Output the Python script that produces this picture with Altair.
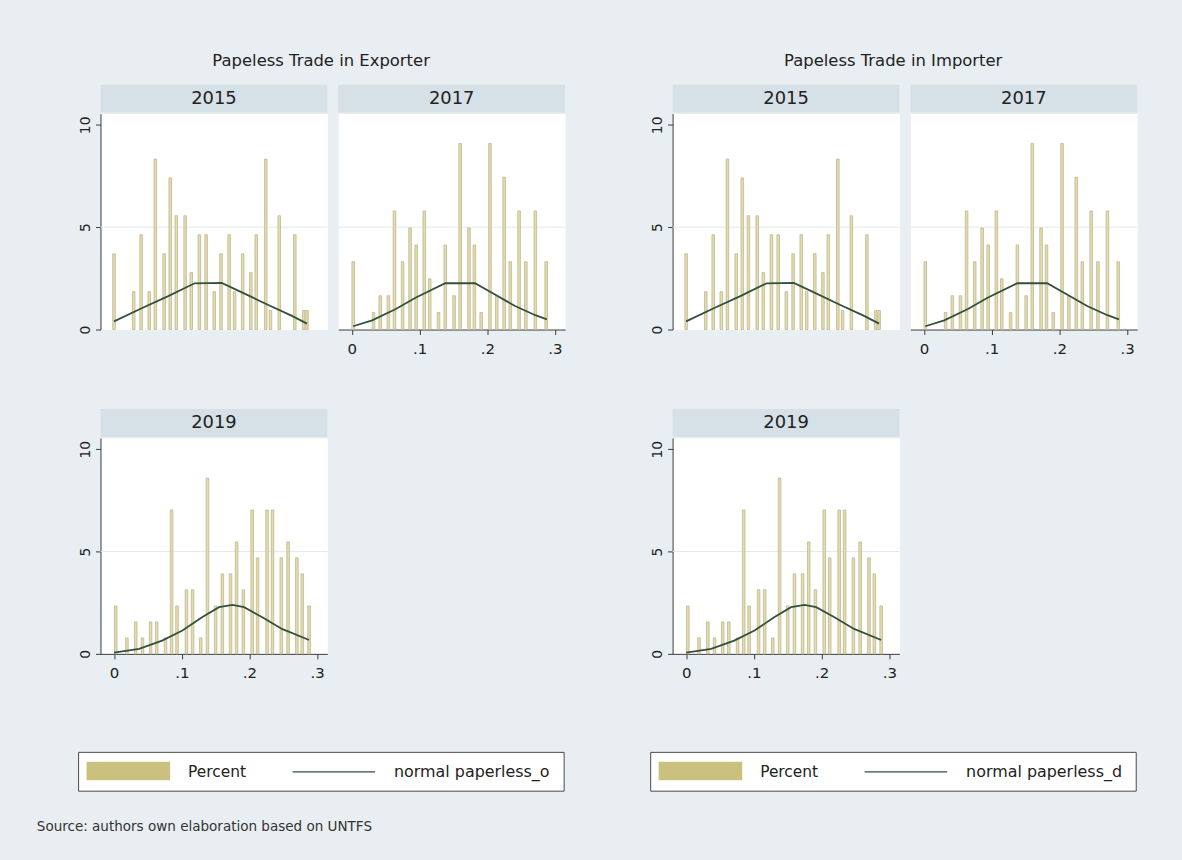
import altair as alt
import pandas as pd

FONT = "DejaVu Sans"

# Histogram bars: bin position (share of paperless trade) and percent of observations
bar_pos_2015 = [0.000, 0.029, 0.040, 0.052, 0.061, 0.074, 0.083, 0.092, 0.105, 0.114,
                0.126, 0.136, 0.148, 0.158, 0.170, 0.178, 0.190, 0.202, 0.210, 0.224,
                0.231, 0.244, 0.267, 0.280, 0.285]
bar_pct_2015 = [3.70, 1.85, 4.63, 1.85, 8.33, 3.70, 7.41, 5.56, 5.56, 2.78,
                4.63, 4.63, 1.85, 3.70, 4.63, 1.85, 3.70, 2.78, 4.63, 8.33,
                0.93, 5.56, 4.63, 0.93, 0.93]

bar_pos_2017 = [0.002, 0.032, 0.042, 0.054, 0.063, 0.075, 0.086, 0.095, 0.107, 0.115,
                0.128, 0.138, 0.151, 0.160, 0.173, 0.181, 0.191, 0.204, 0.214, 0.225,
                0.234, 0.247, 0.257, 0.271, 0.287]
bar_pct_2017 = [3.31, 0.83, 1.65, 1.65, 5.79, 3.31, 4.96, 4.13, 5.79, 2.48,
                0.83, 4.13, 1.65, 9.09, 4.96, 4.13, 0.83, 9.09, 1.65, 7.44,
                3.31, 5.79, 3.31, 5.79, 3.31]

bar_pos_2019 = [0.0025, 0.019, 0.032, 0.042, 0.054, 0.063, 0.076, 0.085, 0.093, 0.107,
                0.116, 0.128, 0.138, 0.150, 0.160, 0.172, 0.181, 0.191, 0.204, 0.212,
                0.226, 0.234, 0.247, 0.257, 0.270, 0.278, 0.288]
bar_pct_2019 = [2.34, 0.78, 1.56, 0.78, 1.56, 1.56, 0.78, 7.03, 2.34, 3.13,
                3.13, 0.78, 8.59, 2.34, 3.91, 3.91, 5.47, 3.13, 7.03, 4.69,
                7.03, 7.03, 4.69, 5.47, 4.69, 3.91, 2.34]

# Fitted normal density, in percent units
curve_x_2015 = [0.000, 0.040, 0.080, 0.119, 0.159, 0.188, 0.227, 0.262, 0.285]
curve_y_2015 = [0.40, 1.03, 1.63, 2.26, 2.28, 1.83, 1.21, 0.68, 0.29]

curve_x_2017 = [0.002, 0.030, 0.065, 0.094, 0.138, 0.182, 0.212, 0.241, 0.271, 0.288]
curve_y_2017 = [0.16, 0.45, 1.00, 1.55, 2.26, 2.26, 1.70, 1.15, 0.70, 0.50]

curve_x_2019 = [0.000, 0.037, 0.071, 0.101, 0.130, 0.155, 0.175, 0.192, 0.219, 0.248, 0.288]
curve_y_2019 = [0.06, 0.24, 0.65, 1.14, 1.79, 2.28, 2.39, 2.28, 1.79, 1.22, 0.68]

x_ticks = [0, 0.1, 0.2, 0.3]
y_ticks = [0, 5, 10]

BAR_HALF = 0.0019
X_DOMAIN = [-0.02, 0.315]
Y_DOMAIN = [0, 10.55]
PANEL_W, PANEL_H = 228, 217

BAR_FILL = "#e2dcae"
BAR_EDGE = "#beb68e"
SWATCH = "#cbc17e"
LINE_COLOR = "#32503c"
STRIP_FILL = "#d6e1e7"
BG = "#e8eef1"
TEXT = "#222222"
AXIS = "#3a3a3a"


def panel(year, pos, pct, cx, cy, show_x, show_y):
    bars_df = pd.DataFrame({"pos": pos, "pct": pct})
    bars_df["lo"] = bars_df["pos"] - BAR_HALF
    bars_df["hi"] = bars_df["pos"] + BAR_HALF
    bars_df["base"] = 0.0
    curve_df = pd.DataFrame({"x": cx, "y": cy})

    xscale = alt.Scale(domain=X_DOMAIN, nice=False, zero=False)
    yscale = alt.Scale(domain=Y_DOMAIN, nice=False)
    if show_x:
        xaxis = alt.Axis(values=x_ticks, title=None, grid=False,
                         labelExpr="datum.value == 0 ? '0' : replace(format(datum.value, '.1f'), '0.', '.')",
                         domainColor=AXIS, tickColor=AXIS, tickSize=5,
                         labelFontSize=15, labelColor=TEXT, labelPadding=7, labelFont=FONT)
    else:
        xaxis = None
    if show_y:
        yaxis = alt.Axis(values=y_ticks, title=None, grid=False,
                         domainColor=AXIS, tickColor=AXIS, tickSize=5,
                         labelAngle=270, labelAlign="center", labelBaseline="bottom",
                         labelFontSize=14, labelColor=TEXT, labelPadding=3, labelFont=FONT,
                         minExtent=30)
    else:
        yaxis = None

    grid = alt.Chart(pd.DataFrame({"g": [5]})).mark_rule(
        color="#e2e8eb", strokeWidth=1
    ).encode(y=alt.Y("g:Q", scale=yscale, axis=yaxis))

    bars = alt.Chart(bars_df).mark_rect(
        fill=BAR_FILL, stroke=BAR_EDGE, strokeWidth=0.8
    ).encode(
        x=alt.X("lo:Q", scale=xscale, axis=xaxis),
        x2="hi:Q",
        y=alt.Y("pct:Q", scale=yscale, axis=yaxis),
        y2="base:Q",
    )

    curve = alt.Chart(curve_df).mark_line(
        color=LINE_COLOR, strokeWidth=1.8
    ).encode(
        x=alt.X("x:Q", scale=xscale, axis=xaxis),
        y=alt.Y("y:Q", scale=yscale, axis=yaxis),
    )

    strip_df = pd.DataFrame({"t": [year]})
    strip = alt.Chart(strip_df).mark_rect(fill=STRIP_FILL).encode(
        x=alt.value(0), x2=alt.value(PANEL_W), y=alt.value(-29), y2=alt.value(-1)
    )
    strip_text = alt.Chart(strip_df).mark_text(
        fontSize=18, font=FONT, color=TEXT, baseline="middle"
    ).encode(x=alt.value(PANEL_W / 2), y=alt.value(-15), text="t:N")

    return alt.layer(grid, bars, curve, strip, strip_text).properties(
        width=PANEL_W, height=PANEL_H,
        view=alt.ViewBackground(fill="white", stroke="transparent"),
    )


def legend_box(label, note=None):
    one = pd.DataFrame({"k": [0]})
    frame = alt.Chart(one).mark_rect(fill="white", stroke="#4a4a4a", strokeWidth=1).encode(
        x=alt.value(-22), x2=alt.value(466), y=alt.value(19), y2=alt.value(58)
    )
    swatch = alt.Chart(one).mark_rect(fill=SWATCH).encode(
        x=alt.value(-14), x2=alt.value(70), y=alt.value(28.5), y2=alt.value(47)
    )
    pct_text = alt.Chart(one).mark_text(
        text="Percent", fontSize=15.5, font=FONT, color=TEXT, align="left", baseline="middle"
    ).encode(x=alt.value(88), y=alt.value(38.5))
    line = alt.Chart(one).mark_rule(color=LINE_COLOR, strokeWidth=1.3).encode(
        x=alt.value(193), x2=alt.value(276), y=alt.value(38.5)
    )
    line_text = alt.Chart(one).mark_text(
        text=label, fontSize=16, font=FONT, color=TEXT, align="left", baseline="middle"
    ).encode(x=alt.value(295), y=alt.value(38.5))
    layers = [frame, swatch, pct_text, line, line_text]
    if note:
        layers.append(
            alt.Chart(one).mark_text(
                text=note, fontSize=13.6, font=FONT, color="#333333",
                align="left", baseline="middle"
            ).encode(x=alt.value(-64), y=alt.value(94))
        )
    return alt.layer(*layers).properties(
        width=466, height=58,
        view=alt.ViewBackground(fill="transparent", stroke="transparent"),
    )


def group(title, legend_label, title_dx, note=None):
    top = alt.hconcat(
        panel("2015", bar_pos_2015, bar_pct_2015, curve_x_2015, curve_y_2015, False, True),
        panel("2017", bar_pos_2017, bar_pct_2017, curve_x_2017, curve_y_2017, True, False),
        spacing=9,
    )
    bottom = panel("2019", bar_pos_2019, bar_pct_2019, curve_x_2019, curve_y_2019, True, True)
    return alt.vconcat(
        top, bottom, legend_box(legend_label, note),
        spacing=51,
        title=alt.TitleParams(title, anchor="middle", fontSize=16.5, font=FONT,
                              fontWeight="normal", color=TEXT, offset=15, dx=title_dx),
    )


chart = alt.hconcat(
    group("Papeless Trade in Exporter", "normal paperless_o", 20,
          "Source: authors own elaboration based on UNTFS"),
    group("Papeless Trade in Importer", "normal paperless_d", 3),
    spacing=76,
).properties(
    padding={"left": 36, "top": 51, "right": 44, "bottom": 27},
).configure(
    background=BG,
    font=FONT,
).configure_view(
    stroke="transparent",
)

chart.save("out.html", embed_options={"renderer": "svg", "actions": False})
